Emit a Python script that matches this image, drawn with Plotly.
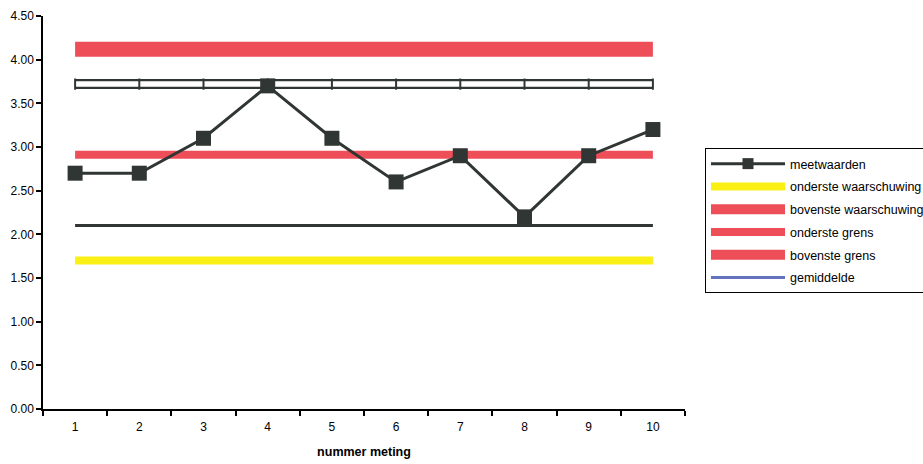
import plotly.graph_objects as go

# measurement numbers and measured values
metingen = ["1", "2", "3", "4", "5", "6", "7", "8", "9", "10"]
meetwaarden = [2.7, 2.7, 3.1, 3.7, 3.1, 2.6, 2.9, 2.2, 2.9, 3.2]

# control levels
bovenste_grens = 4.12
bovenste_waarschuwing = 3.72
gemiddelde = 2.91
onderste_waarschuwing_lijn = 2.10
onderste_grens = 1.70

y_ticks = [0.0, 0.5, 1.0, 1.5, 2.0, 2.5, 3.0, 3.5, 4.0, 4.5]

RED = "rgb(238,78,88)"
YELLOW = "rgb(250,240,20)"
DARK = "rgb(48,54,52)"
BLUE = "rgb(100,115,190)"
FONT = "Liberation Sans, Arial, sans-serif"

fig = go.Figure()


def level(v):
    return [v] * len(metingen)


# upper limit (thick red band)
fig.add_trace(go.Scatter(x=metingen, y=level(bovenste_grens), mode="lines",
                         line=dict(color=RED, width=15), showlegend=False,
                         hoverinfo="skip"))

# upper warning: outlined white bar with a divider at each measurement
fig.add_trace(go.Scatter(x=metingen, y=level(bovenste_waarschuwing), mode="lines",
                         line=dict(color=DARK, width=10), showlegend=False,
                         hoverinfo="skip"))
fig.add_trace(go.Scatter(x=metingen, y=level(bovenste_waarschuwing), mode="lines+markers",
                         line=dict(color="white", width=5.5),
                         marker=dict(symbol="line-ns", size=8,
                                     line=dict(color=DARK, width=2)),
                         showlegend=False, hoverinfo="skip"))

# mean (red)
fig.add_trace(go.Scatter(x=metingen, y=level(gemiddelde), mode="lines",
                         line=dict(color=RED, width=8), showlegend=False,
                         hoverinfo="skip"))

# lower warning (dark thin line)
fig.add_trace(go.Scatter(x=metingen, y=level(onderste_waarschuwing_lijn), mode="lines",
                         line=dict(color=DARK, width=3), showlegend=False,
                         hoverinfo="skip"))

# lower limit (yellow)
fig.add_trace(go.Scatter(x=metingen, y=level(onderste_grens), mode="lines",
                         line=dict(color=YELLOW, width=8), showlegend=False,
                         hoverinfo="skip"))

# measured values
fig.add_trace(go.Scatter(x=metingen, y=meetwaarden, mode="lines+markers",
                         line=dict(color=DARK, width=3),
                         marker=dict(symbol="square", size=15, color=DARK),
                         showlegend=False))

# legend entries
legend_items = [
    ("meetwaarden", dict(color=DARK, width=3), dict(symbol="square", size=11, color=DARK)),
    ("onderste waarschuwing", dict(color=YELLOW, width=8), None),
    ("bovenste waarschuwing", dict(color=RED, width=14), None),
    ("onderste grens", dict(color=RED, width=8), None),
    ("bovenste grens", dict(color=RED, width=14), None),
    ("gemiddelde", dict(color=BLUE, width=3), None),
]
for i, (name, ln, mk) in enumerate(legend_items):
    fig.add_trace(go.Scatter(x=[None], y=[None], name=name,
                             mode="lines+markers" if mk else "lines",
                             line=ln, marker=mk, legendgroup=f"g{i}",
                             showlegend=True))

fig.update_layout(
    width=923, height=464,
    margin=dict(l=43, r=238, t=16, b=55),
    paper_bgcolor="white", plot_bgcolor="white",
    font=dict(family=FONT, size=12, color="black"),
    legend=dict(
        x=705 / 923, xref="container", xanchor="left",
        y=1 - 148 / 464, yref="container", yanchor="top",
        bordercolor="black", borderwidth=1, bgcolor="white",
        itemwidth=74, tracegroupgap=3.5, traceorder="grouped",
        font=dict(family=FONT, size=12.5, color="black"),
    ),
    xaxis=dict(
        type="category", categoryorder="array", categoryarray=metingen,
        range=[-0.5, 9.5], automargin=False,
        tickson="boundaries", ticks="outside", ticklen=5, tickwidth=1.5,
        tickcolor="black", showline=True, linecolor="black", linewidth=1.5,
        showgrid=False, zeroline=False, ticklabelstandoff=6,
        title=dict(text="<b>nummer meting</b>", standoff=14,
                   font=dict(family=FONT, size=12.5, color="black")),
    ),
    yaxis=dict(
        range=[0, 4.5], tickvals=y_ticks, tickformat=".2f", automargin=False,
        ticks="outside", ticklen=5, tickwidth=1.5, tickcolor="black",
        showline=True, linecolor="black", linewidth=1.5,
        showgrid=False, zeroline=False,
    ),
)

fig.write_html("out.html")
